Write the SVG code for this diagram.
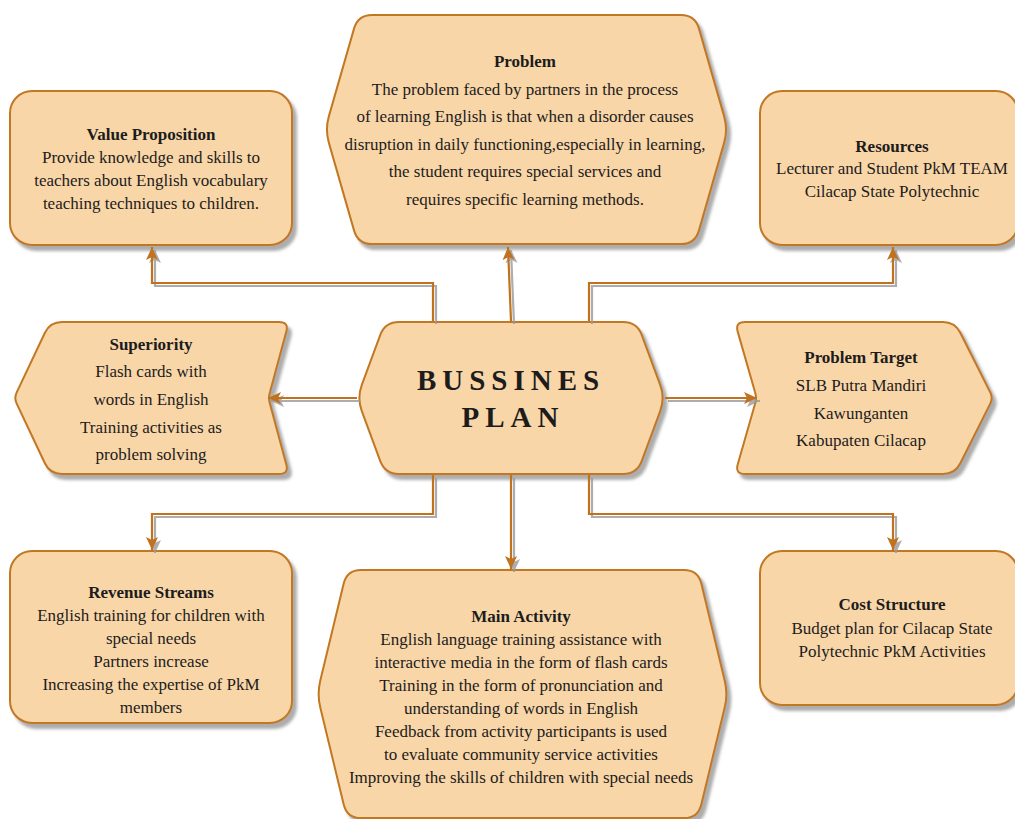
<svg xmlns="http://www.w3.org/2000/svg" width="1015" height="819" viewBox="0 0 1015 819">
<defs>
<filter id="sh" x="-10%" y="-10%" width="130%" height="130%">
<feDropShadow dx="4" dy="5" stdDeviation="1.5" flood-color="#777" flood-opacity="0.6"/>
</filter>
<filter id="lsh" x="-10%" y="-10%" width="130%" height="130%">
<feDropShadow dx="3" dy="3" stdDeviation="0.6" flood-color="#999" flood-opacity="0.8"/>
</filter>
<marker id="arr" markerUnits="userSpaceOnUse" markerWidth="14" markerHeight="14" refX="13" refY="6" orient="auto">
<path d="M0,0 L13,6 L0,12 L3,6 Z" fill="#c0721e"/>
</marker>
<style>
.n{fill:#f9d6a8;stroke:#c27823;stroke-width:2;filter:url(#sh)}
.c{fill:none;stroke:#c0721e;stroke-width:2.2;marker-end:url(#arr)}
text{font-family:"Liberation Serif","Times New Roman",serif;font-size:17px;fill:#1c1c1c;text-anchor:middle}
.t{font-weight:bold}
.big{font-weight:bold;font-size:29px;letter-spacing:6px}
</style>
</defs>
<rect width="1015" height="819" fill="#ffffff"/>

<g id="value-proposition">
<rect class="n" x="10" y="91" width="282" height="154" rx="22"/>
<text class="t" x="151" y="140">Value Proposition</text>
<text x="151" y="163">Provide knowledge and skills to</text>
<text x="151" y="186">teachers about English vocabulary</text>
<text x="151" y="209">teaching techniques to children.</text>
</g>

<g id="problem">
<path class="n" d="M372,15 L681,15 Q695,15 698.9,28.4 L724.1,116.1 Q728,129.5 724.1,142.9 L698.9,230.6 Q695,244 681,244 L372,244 Q358,244 354.1,230.6 L328.9,142.9 Q325,129.5 328.9,116.1 L354.1,28.4 Q358,15 372,15 Z"/>
<text class="t" x="525" y="67">Problem</text>
<text x="525" y="95">The problem faced by partners in the process</text>
<text x="525" y="122">of learning English is that when a disorder causes</text>
<text x="525" y="150">disruption in daily functioning,especially in learning,</text>
<text x="525" y="177">the student requires special services and</text>
<text x="525" y="205">requires specific learning methods.</text>
</g>

<g id="resources">
<rect class="n" x="760" y="91" width="258" height="154" rx="22"/>
<text class="t" x="892" y="152">Resources</text>
<text x="892" y="174">Lecturer and Student PkM TEAM</text>
<text x="892" y="197">Cilacap State Polytechnic</text>
</g>

<g id="superiority">
<path class="n" d="M62,322 L279,322 Q289,322 286.3,331.6 L270,392 Q268,398 270,404 L286.3,464.4 Q289,474 279,474 L62,474 Q50,474 44.9,463.2 L16.6,403.4 Q14,398 16.6,392.6 L44.9,332.8 Q50,322 62,322 Z"/>
<text class="t" x="151" y="350">Superiority</text>
<text x="151" y="377">Flash cards with</text>
<text x="151" y="405">words in English</text>
<text x="151" y="433">Training activities as</text>
<text x="151" y="460">problem solving</text>
</g>

<g id="bussines-plan">
<path class="n" d="M399,322 L623,322 Q637,322 641.8,335.1 L660.2,384.9 Q665,398 660.2,411.1 L641.8,460.9 Q637,474 623,474 L399,474 Q385,474 380.2,460.9 L361.8,411.1 Q357,398 361.8,384.9 L380.2,335.1 Q385,322 399,322 Z"/>
<text class="big" x="511" y="390">BUSSINES</text>
<text class="big" x="513" y="427">PLAN</text>
</g>

<g id="problem-target">
<path class="n" d="M745,322 L943,322 Q955,322 960.3,332.8 L990.4,392.6 Q993,398 990.4,403.4 L960.3,463.2 Q955,474 943,474 L745,474 Q735,474 737.7,464.4 L755,404 Q757,398 755,392 L737.7,331.6 Q735,322 745,322 Z"/>
<text class="t" x="861" y="363">Problem Target</text>
<text x="861" y="391">SLB Putra Mandiri</text>
<text x="861" y="419">Kawunganten</text>
<text x="861" y="446">Kabupaten Cilacap</text>
</g>

<g id="revenue-streams">
<rect class="n" x="10" y="551" width="282" height="172" rx="22"/>
<text class="t" x="151" y="598">Revenue Streams</text>
<text x="151" y="621">English training for children with</text>
<text x="151" y="644">special needs</text>
<text x="151" y="667">Partners increase</text>
<text x="151" y="690">Increasing the expertise of PkM</text>
<text x="151" y="713">members</text>
</g>

<g id="main-activity">
<path class="n" d="M361,570 L684,570 Q698,570 701.3,583.6 L724.7,680.4 Q728,694 724.7,707.6 L701.3,804.4 Q698,818 684,818 L361,818 Q347,818 343.7,804.4 L320.3,707.6 Q317,694 320.3,680.4 L343.7,583.6 Q347,570 361,570 Z"/>
<text class="t" x="521" y="622">Main Activity</text>
<text x="521" y="645">English language training assistance with</text>
<text x="521" y="668">interactive media in the form of flash cards</text>
<text x="521" y="691">Training in the form of pronunciation and</text>
<text x="521" y="714">understanding of words in English</text>
<text x="521" y="737">Feedback from activity participants is used</text>
<text x="521" y="760">to evaluate community service activities</text>
<text x="521" y="783">Improving the skills of children with special needs</text>
</g>

<g id="cost-structure">
<rect class="n" x="760" y="551" width="258" height="154" rx="22"/>
<text class="t" x="892" y="610">Cost Structure</text>
<text x="892" y="634">Budget plan for Cilacap State</text>
<text x="892" y="657">Polytechnic PkM Activities</text>
</g>

<g id="connectors" filter="url(#lsh)">
<path class="c" d="M433,321 V283 H152 V247"/>
<path class="c" d="M511,321 L508,247"/>
<path class="c" d="M589,321 V283 H893 V247"/>
<path class="c" d="M357,398 H268"/>
<path class="c" d="M665,398 H757"/>
<path class="c" d="M433,475 V514 H152 V550"/>
<path class="c" d="M511,475 V569"/>
<path class="c" d="M589,475 V514 H893 V550"/>
</g>
</svg>
